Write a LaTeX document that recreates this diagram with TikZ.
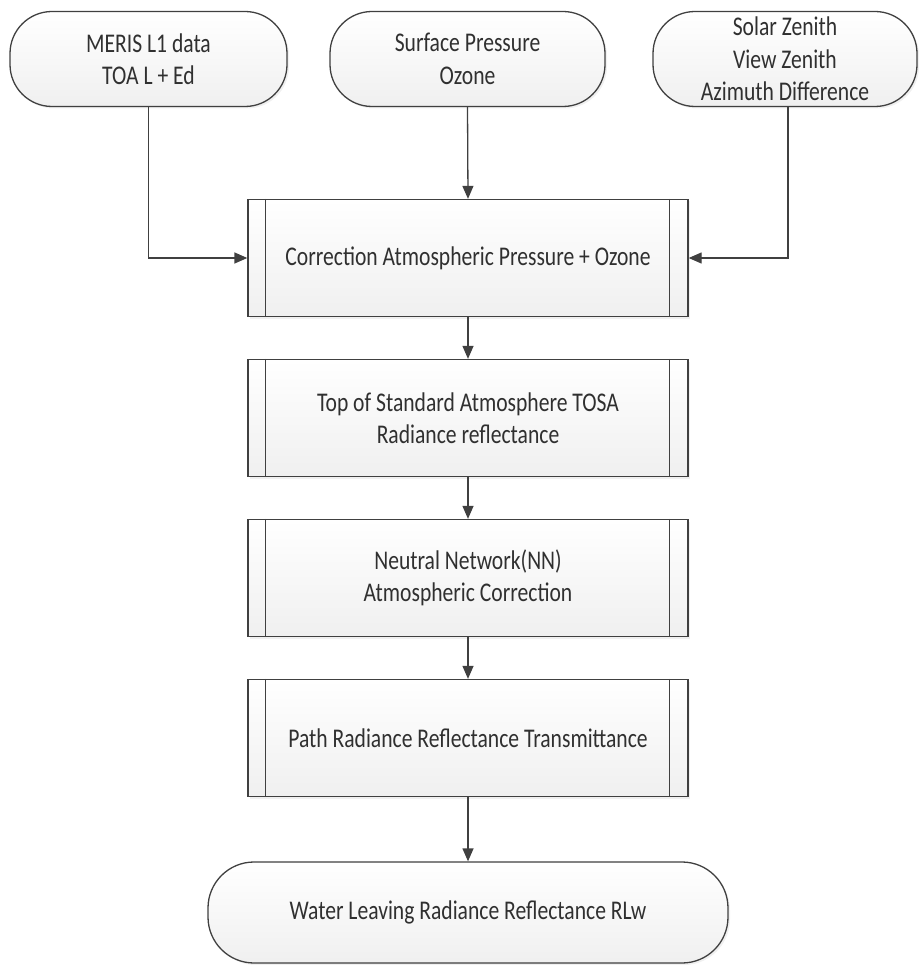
\documentclass[tikz,border=0pt]{standalone}
\usepackage{fontspec}
\setmainfont[FakeStretch=0.8]{Carlito}
\usetikzlibrary{arrows.meta,shadows,calc}
\definecolor{ln}{HTML}{404040}
\definecolor{tx}{HTML}{303030}
\tikzset{
  base/.style={draw=ln, line width=1.3pt, top color=white, bottom color=gray!12,
    text=tx, font=\fontsize{27}{32.5}\selectfont, align=center, inner sep=0pt,
    drop shadow={opacity=0.12, shadow xshift=2pt, shadow yshift=-2pt}},
  term/.style={base, rounded corners=42pt},
  proc/.style={base, minimum width=440pt, minimum height=117pt},
  conn/.style={draw=ln, line width=1.3pt, -{Triangle[length=13pt,width=11pt]}}
}
\begin{document}
\begin{tikzpicture}[x=1pt,y=-1pt]
\useasboundingbox (0,0) rectangle (918,965);
\node[term, minimum width=277pt, minimum height=95pt] (t1) at (148.5,59) {MERIS L1 data\\TOA L + Ed};
\node[term, minimum width=275pt, minimum height=95pt] (t2) at (467.5,59) {Surface Pressure\\Ozone};
\node[term, minimum width=264pt, minimum height=95pt] (t3) at (785,59) {Solar Zenith\\View Zenith\\Azimuth Difference};
\node[proc] (p1) at (468,258) {Correction Atmospheric Pressure + Ozone};
\node[proc] (p2) at (468,418) {Top of Standard Atmosphere TOSA\\Radiance reflectance};
\node[proc] (p3) at (468,578) {Neutral Network(NN)\\Atmospheric Correction};
\node[proc] (p4) at (468,738) {Path Radiance Reflectance Transmittance};
\node[term, minimum width=520pt, minimum height=101pt, rounded corners=46pt] (t4) at (468,912.5) {Water Leaving Radiance Reflectance RLw};
\foreach \n in {p1,p2,p3,p4}{
  \draw[ln, line width=1.3pt] ($(\n.north west)+(18pt,0)$) -- ($(\n.south west)+(18pt,0)$);
  \draw[ln, line width=1.3pt] ($(\n.north east)+(-19pt,0)$) -- ($(\n.south east)+(-19pt,0)$);
}
\draw[conn] (t1.south) |- (p1.west);
\draw[conn] (t2.south) -- (p1.north);
\draw[conn] ([xshift=3pt]t3.south) |- (p1.east);
\draw[conn] (p1.south) -- (p2.north);
\draw[conn] (p2.south) -- (p3.north);
\draw[conn] (p3.south) -- (p4.north);
\draw[conn] (p4.south) -- (t4.north);
\end{tikzpicture}
\end{document}
